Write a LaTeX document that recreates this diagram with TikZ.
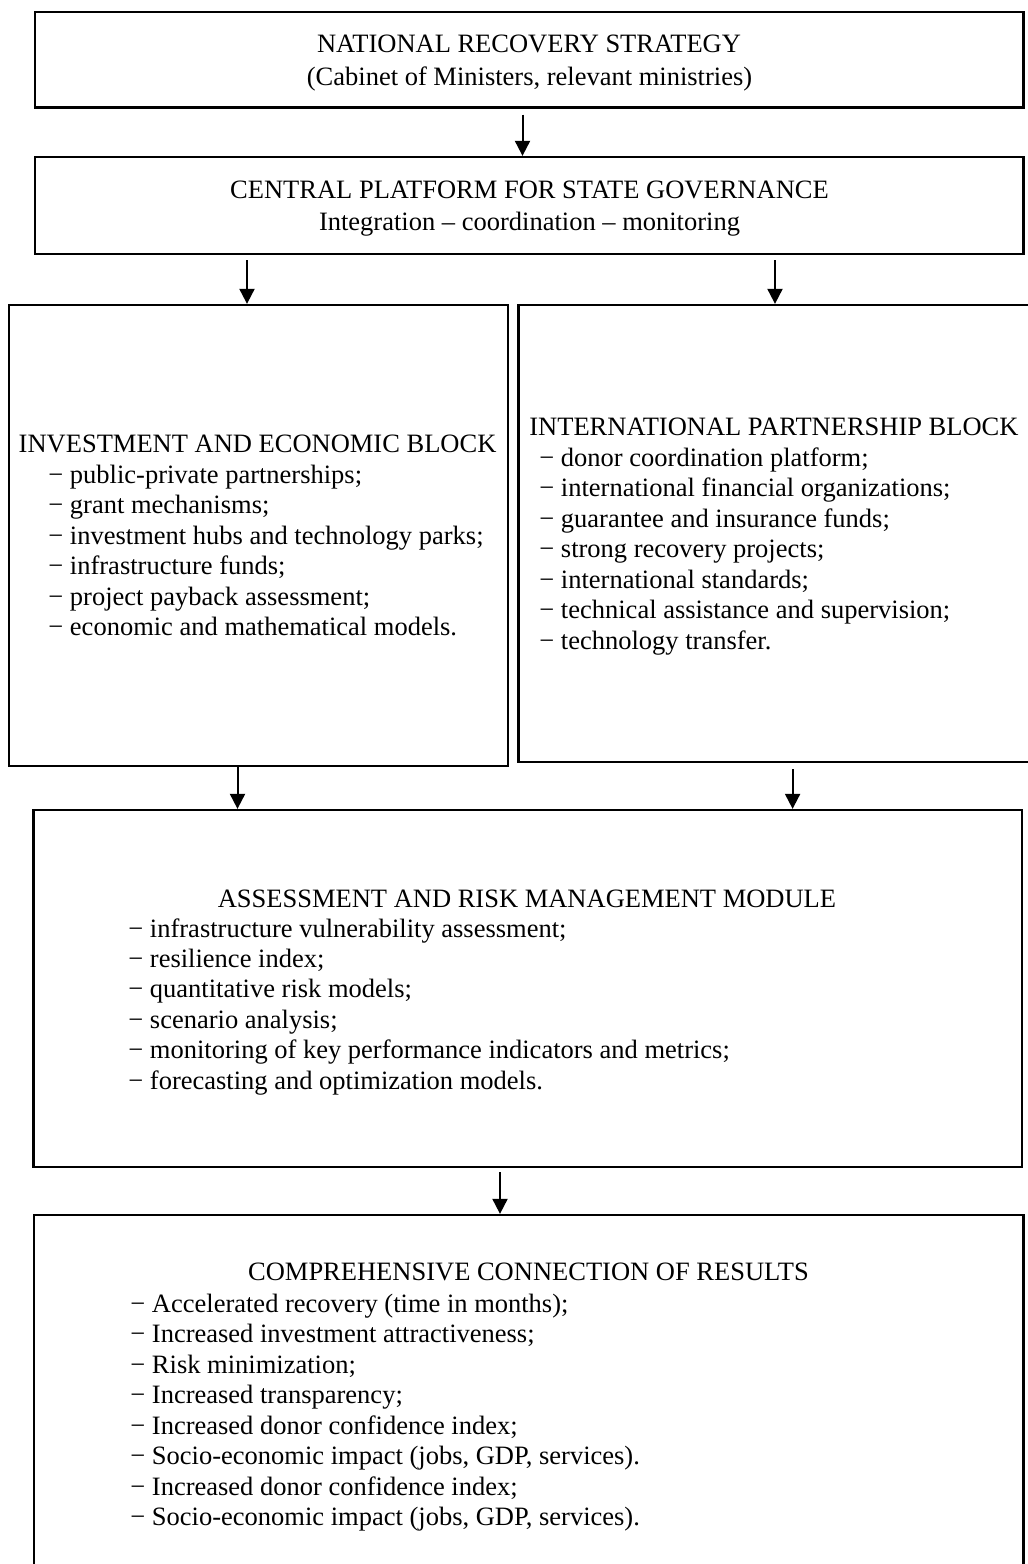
\documentclass[tikz,border=0pt]{standalone}
\usepackage{fontspec}
\setmainfont{Liberation Serif}
\usetikzlibrary{arrows.meta,fit}
\begin{document}
\begin{tikzpicture}[x=0.5pt,y=-0.5pt,
  frame/.style={draw, line width=1.15pt, inner sep=0pt},
  txt/.style={font=\fontsize{13.25}{16}\selectfont, inner sep=0pt},
  head/.style={txt, anchor=base},
  item/.style={txt, anchor=base west},
  link/.style={line width=1pt, -{Triangle[width=7.5pt,length=7.5pt]}}
]
\useasboundingbox (0,0) rectangle (1028,1564);
\clip (0,0) rectangle (1028,1564);
\fill[white] (0,0) rectangle (1028,1564);

% frames
\node[frame, fit={(35,12) (1023.5,107.5)}] (strategy) {};
\node[frame, fit={(35,157) (1023.5,254)}] (platform) {};
\node[frame, fit={(9,305) (508,766)}] (invest) {};
\node[frame, fit={(518.6,305) (1040,762)}] (partner) {};
\node[frame, fit={(33.5,810) (1022,1167)}] (assess) {};
\node[frame, fit={(34,1215) (1023.5,1600)}] (results) {};

% strategy and platform texts
\node[head] (strategy-t) at (529,52) {NATIONAL RECOVERY STRATEGY};
\node[head] (strategy-s) at (529.5,85) {(Cabinet of Ministers, relevant ministries)};
\node[head] (platform-t) at (529.5,198) {CENTRAL PLATFORM FOR STATE GOVERNANCE};
\node[head] (platform-s) at (529.5,230) {Integration – coordination – monitoring};

% investment block
\node[head] (invest-t) at (257.6,452) {INVESTMENT AND ECONOMIC BLOCK};
\foreach \t [count=\i from 0] in {
  public-private partnerships;,
  grant mechanisms;,
  investment hubs and technology parks;,
  infrastructure funds;,
  project payback assessment;,
  economic and mathematical models.}
  \node[item] (invest-\i) at (48,483+30.5*\i) {− \t};

% partnership block
\node[item] (partner-t) at (529,435) {INTERNATIONAL PARTNERSHIP BLOCK};
\foreach \t [count=\i from 0] in {
  donor coordination platform;,
  international financial organizations;,
  guarantee and insurance funds;,
  strong recovery projects;,
  international standards;,
  technical assistance and supervision;,
  technology transfer.}
  \node[item] (partner-\i) at (539,466+30.5*\i) {− \t};

% assessment module
\node[head] (assess-t) at (527,907) {ASSESSMENT AND RISK MANAGEMENT MODULE};
\foreach \t [count=\i from 0] in {
  infrastructure vulnerability assessment;,
  resilience index;,
  quantitative risk models;,
  scenario analysis;,
  monitoring of key performance indicators and metrics;,
  forecasting and optimization models.}
  \node[item] (assess-\i) at (128,937+30.4*\i) {− \t};

% results
\node[head] (results-t) at (528.5,1280) {COMPREHENSIVE CONNECTION OF RESULTS};
\foreach \t [count=\i from 0] in {
  Accelerated recovery (time in months);,
  Increased investment attractiveness;,
  Risk minimization;,
  Increased transparency;,
  Increased donor confidence index;,
  {Socio-economic impact (jobs, GDP, services).},
  Increased donor confidence index;,
  {Socio-economic impact (jobs, GDP, services).}}
  \node[item] (results-\i) at (130,1312+30.5*\i) {− \t};

% connector columns
\coordinate (c1) at (522.5,0);
\coordinate (c2) at (247,0);
\coordinate (c3) at (775,0);
\coordinate (c4) at (237.5,0);
\coordinate (c5) at (792.6,0);
\coordinate (c6) at (500,0);

\draw[link, shorten <=3pt] (strategy.south -| c1) -- (platform.north -| c1);
\draw[link, shorten <=2.5pt] (platform.south -| c2) -- (invest.north -| c2);
\draw[link, shorten <=2.5pt] (platform.south -| c3) -- (partner.north -| c3);
\draw[link] (invest.south -| c4) -- (assess.north -| c4);
\draw[link, shorten <=3pt] (partner.south -| c5) -- (assess.north -| c5);
\draw[link, shorten <=2pt] (assess.south -| c6) -- (results.north -| c6);
\end{tikzpicture}
\end{document}
